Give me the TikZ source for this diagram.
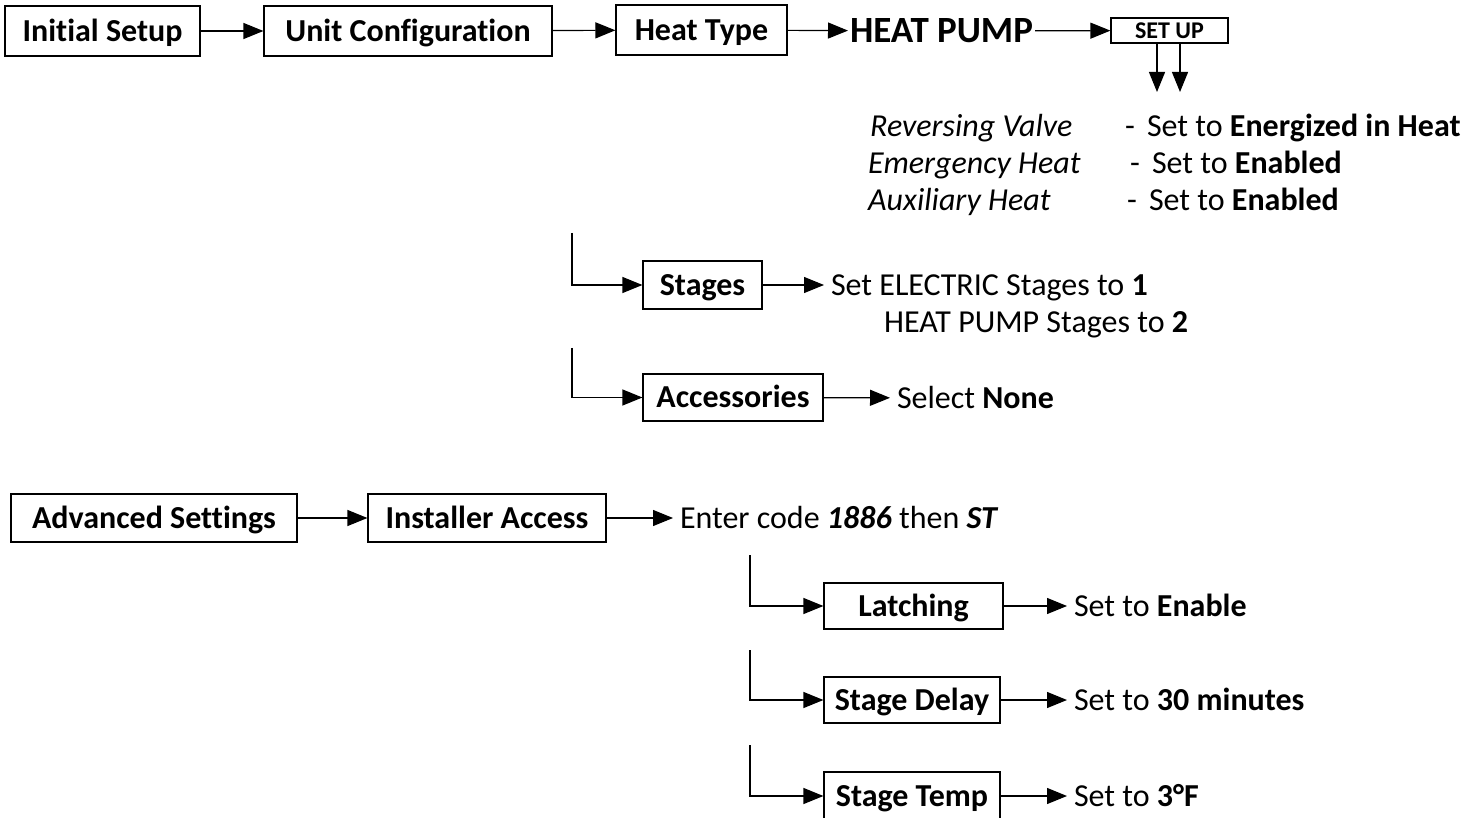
\documentclass[tikz,border=0pt]{standalone}
\usepackage{fontspec}
\setmainfont{Carlito}[Ligatures=NoCommon]
\usetikzlibrary{positioning, arrows.meta}

\begin{document}
\begin{tikzpicture}[x=1pt, y=-1pt, >={Triangle[length=20pt, width=16pt]},
    every node/.style={inner sep=0pt, text height=20.5pt, text depth=0pt,
      font=\fontsize{32}{38}\selectfont},
    menu/.style={draw, line width=1.2pt, minimum height=48pt,
      font=\fontsize{32}{38}\selectfont\bfseries},
    note/.style={anchor=west, outer xsep=7pt},
    flow/.style={->, line width=1.2pt}]
    \useasboundingbox (0,0) rectangle (1481,818);

    % Top row
    \node[menu, minimum width=195pt, minimum height=50pt] (init) at (102.5,31) {Initial Setup};
    \node[menu, minimum width=288pt, minimum height=50pt] (unit) at (408,31)   {Unit Configuration};
    \node[menu, minimum width=171pt, minimum height=50pt] (type) at (701.5,30) {Heat Type};
    \node[note, outer xsep=2pt, text height=24pt,
          font=\fontsize{37}{44}\selectfont\bfseries] (hp) at (848,31) {HEAT PUMP};
    \node[menu, minimum width=117pt, minimum height=25pt, text height=15.5pt,
          font=\fontsize{24}{28}\selectfont\bfseries] (setup) at (1169.5,30.5) {SET UP};

    % Heat pump settings
    \coordinate (d1) at (1157,92);
    \coordinate (d2) at (1180,92);
    \node[anchor=west] (rv)    at (870,126)  {\itshape Reversing Valve};
    \node[anchor=west] (rvset) at (1125,126) {-\hspace{12pt}Set to \textbf{Energized in Heat}};
    \node[anchor=west] (eh)    at (868,163)  {\itshape Emergency Heat};
    \node[anchor=west] (ehset) at (1130,163) {-\hspace{12pt}Set to \textbf{Enabled}};
    \node[anchor=west] (ax)    at (868,200)  {\itshape Auxiliary Heat};
    \node[anchor=west] (axset) at (1127,200) {-\hspace{12pt}Set to \textbf{Enabled}};

    % Stages and accessories
    \coordinate (b1) at (572,233);
    \coordinate (b2) at (572,348);
    \node[menu, minimum width=119pt] (stages) at (702.5,285) {Stages};
    \node[note] (stset) at (824,285) {Set ELECTRIC Stages to \textbf{1}};
    \node[anchor=west] (hpset) at (884,322) {HEAT PUMP Stages to \textbf{2}};
    \node[menu, minimum width=180pt, minimum height=47pt] (acc) at (733,397.5) {Accessories};
    \node[note] (accset) at (890,398) {Select \textbf{None}};

    % Bottom row
    \node[menu, minimum width=286pt] (adv)  at (154,518) {Advanced Settings};
    \node[menu, minimum width=238pt] (inst) at (487,518) {Installer Access};
    \node[note] (code) at (673,518) {Enter code \textbf{\itshape 1886} then \textbf{\itshape ST}};

    % Installer settings
    \coordinate (b3) at (750,555);
    \coordinate (b4) at (750,650);
    \coordinate (b5) at (750,745);
    \node[menu, minimum width=179pt, minimum height=46pt] (latch) at (913.5,606) {Latching};
    \node[note] (latchset) at (1067,606) {Set to \textbf{Enable}};
    \node[menu, minimum width=176pt, minimum height=46pt] (delay) at (912,700) {Stage Delay};
    \node[note] (delayset) at (1067,700) {Set to \textbf{30 minutes}};
    \node[menu, minimum width=176pt] (temp) at (912,796) {Stage Temp};
    \node[note] (tempset) at (1067,796) {Set to \textbf{3°F}};

    % Connectors
    \draw[flow] (init) -- (unit);
    \draw[flow] (unit) -- (type);
    \draw[flow] (type) -- (hp);
    \draw[flow] (hp) -- (setup);
    \draw[flow] (setup.south -| d1) -- (d1);
    \draw[flow] (setup.south -| d2) -- (d2);
    \draw[flow] (b1) |- (stages);
    \draw[flow] (stages) -- (stset);
    \draw[flow] (b2) |- (acc);
    \draw[flow] (acc) -- (accset);
    \draw[flow] (adv) -- (inst);
    \draw[flow] (inst) -- (code);
    \draw[flow] (b3) |- (latch);
    \draw[flow] (latch) -- (latchset);
    \draw[flow] (b4) |- (delay);
    \draw[flow] (delay) -- (delayset);
    \draw[flow] (b5) |- (temp);
    \draw[flow] (temp) -- (tempset);
\end{tikzpicture}
\end{document}
